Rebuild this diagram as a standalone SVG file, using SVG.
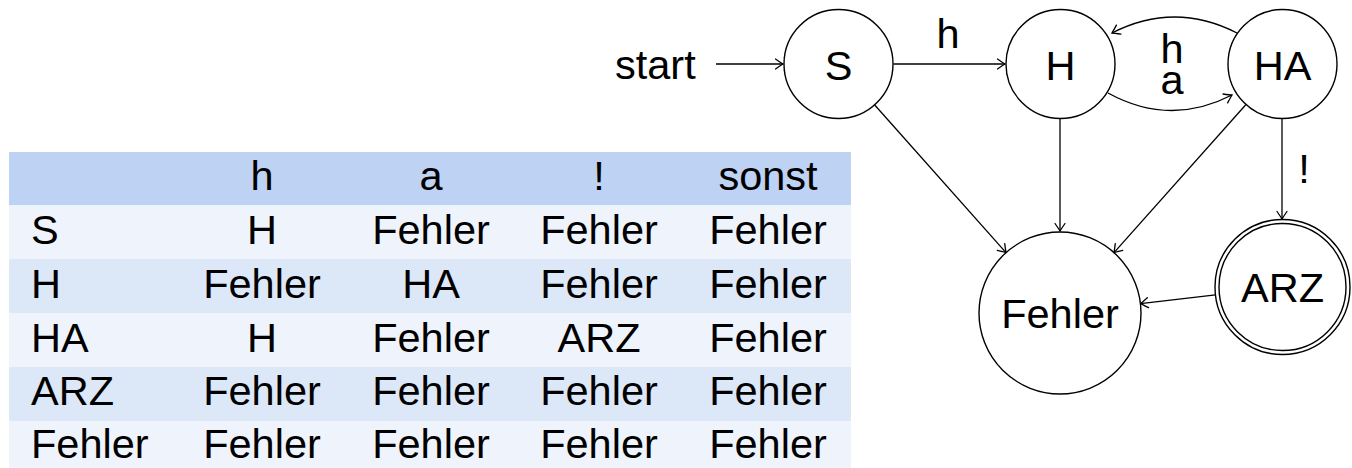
<svg xmlns="http://www.w3.org/2000/svg" width="1352" height="468" viewBox="0 0 1352 468">
<style>
text{font-family:"Liberation Sans",Arial,sans-serif;font-size:41.5px;fill:#000}
.c{text-anchor:middle}
.node{fill:#fff;stroke:#000;stroke-width:1.4}
.edge{fill:none;stroke:#000;stroke-width:1.3;marker-end:url(#to)}
.hd{fill:#BED2F3}.r1{fill:#EEF3FC}.r2{fill:#DCE7F8}
</style>
<defs>
<marker id="to" viewBox="-9 -6 11 12" refX="0" refY="0" markerWidth="11" markerHeight="12" markerUnits="userSpaceOnUse" orient="auto">
<path d="M-7.5,-5 Q-2,-1.2 0,0 Q-2,1.2 -7.5,5" fill="none" stroke="#000" stroke-width="1.3" stroke-linecap="round"/>
</marker>
</defs>
<g id="table">
<rect class="hd" x="9" y="152" width="842" height="53"/>
<rect class="r1" x="9" y="205" width="842" height="54"/>
<rect class="r2" x="9" y="259" width="842" height="54"/>
<rect class="r1" x="9" y="313" width="842" height="54"/>
<rect class="r2" x="9" y="367" width="842" height="54"/>
<rect class="r1" x="9" y="421" width="842" height="47"/>
<text class="c" x="262" y="190">h</text><text class="c" x="431" y="190">a</text><text class="c" x="599" y="190">!</text><text class="c" x="768" y="190">sonst</text>
<text x="31" y="244">S</text><text class="c" x="262" y="244">H</text><text class="c" x="431" y="244">Fehler</text><text class="c" x="599" y="244">Fehler</text><text class="c" x="768" y="244">Fehler</text>
<text x="31" y="298">H</text><text class="c" x="262" y="298">Fehler</text><text class="c" x="431" y="298">HA</text><text class="c" x="599" y="298">Fehler</text><text class="c" x="768" y="298">Fehler</text>
<text x="31" y="352">HA</text><text class="c" x="262" y="352">H</text><text class="c" x="431" y="352">Fehler</text><text class="c" x="599" y="352">ARZ</text><text class="c" x="768" y="352">Fehler</text>
<text x="31" y="405">ARZ</text><text class="c" x="262" y="405">Fehler</text><text class="c" x="431" y="405">Fehler</text><text class="c" x="599" y="405">Fehler</text><text class="c" x="768" y="405">Fehler</text>
<text x="31" y="458">Fehler</text><text class="c" x="262" y="458">Fehler</text><text class="c" x="431" y="458">Fehler</text><text class="c" x="599" y="458">Fehler</text><text class="c" x="768" y="458">Fehler</text>
</g>
<g id="edges">
<path class="edge" d="M716,64 L783,64"/>
<text x="615" y="79">start</text>
<path class="edge" d="M893.5,64 L1005,64"/>
<text class="c" x="948" y="48">h</text>
<path class="edge" d="M1237,33 Q1174.5,1 1112,33"/>
<path class="edge" d="M1108,93 Q1170,127 1232,95"/>
<text class="c" x="1172" y="63">h</text>
<text class="c" x="1172" y="94">a</text>
<path class="edge" d="M874.5,104.7 L1006,252.6"/>
<path class="edge" d="M1060,119 L1060,231"/>
<path class="edge" d="M1246,104.5 L1114,252.6"/>
<path class="edge" d="M1282,118 L1282,219"/>
<text class="c" x="1304" y="183">!</text>
<path class="edge" d="M1215.5,294.8 L1140.5,303.6"/>
</g>
<g id="S"><circle class="node" cx="838.5" cy="64" r="54.5"/><text class="c" x="838.5" y="80">S</text></g>
<g id="H"><circle class="node" cx="1060.5" cy="64" r="54.5"/><text class="c" x="1060.5" y="80">H</text></g>
<g id="HA"><circle class="node" cx="1282.5" cy="64" r="54.5"/><text class="c" x="1282.5" y="80">HA</text></g>
<g id="Fehler"><circle class="node" cx="1060" cy="313" r="81"/><text class="c" x="1060" y="328">Fehler</text></g>
<g id="ARZ"><circle class="node" cx="1282.5" cy="287" r="67.5"/><circle class="node" cx="1282.5" cy="287" r="63.5"/><text class="c" x="1282.5" y="302">ARZ</text></g>
</svg>
